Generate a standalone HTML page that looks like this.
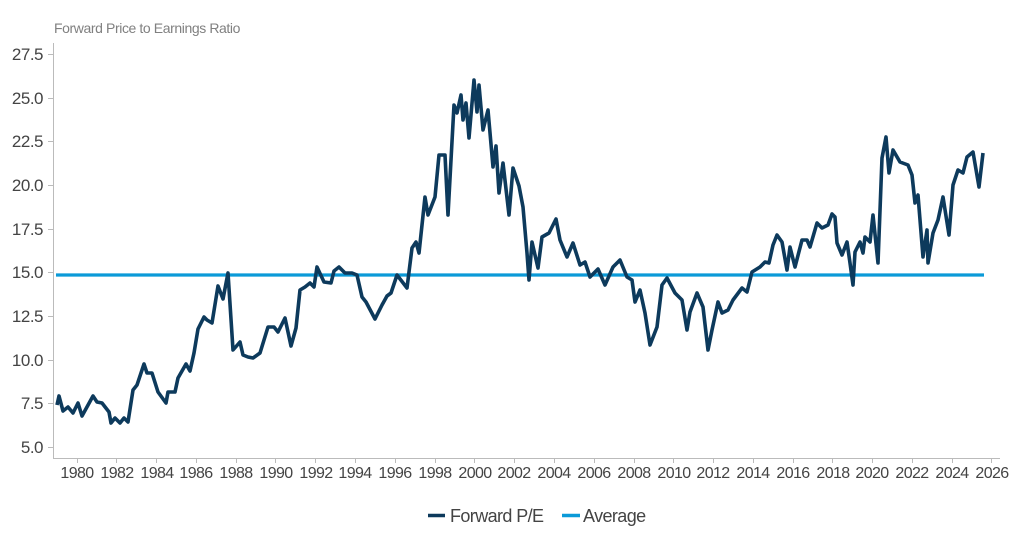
<!DOCTYPE html>
<html><head><meta charset="utf-8"><style>
html,body{margin:0;padding:0;background:#fff;}
svg{display:block;font-family:"Liberation Sans",Arial,sans-serif;}
</style></head><body>
<svg width="1024" height="546" viewBox="0 0 1024 546" xmlns="http://www.w3.org/2000/svg">
<text x="54" y="33" font-size="14" fill="#808080" letter-spacing="-0.4">Forward Price to Earnings Ratio</text>
<g fill="#444" font-size="17" text-anchor="end" letter-spacing="-0.5">
<text x="43" y="60">27.5</text><text x="43" y="104">25.0</text><text x="43" y="147">22.5</text>
<text x="43" y="191">20.0</text><text x="43" y="235">17.5</text><text x="43" y="278">15.0</text>
<text x="43" y="322">12.5</text><text x="43" y="366">10.0</text><text x="43" y="409">7.5</text>
<text x="43" y="453">5.0</text>
</g>
<g stroke="#bbb" stroke-width="1">
<line x1="53.5" y1="43" x2="53.5" y2="458"/>
<line x1="53" y1="458.5" x2="1000" y2="458.5"/>
<path d="M48 54.5h5M48 98.5h5M48 141.5h5M48 185.5h5M48 229.5h5M48 272.5h5M48 316.5h5M48 360.5h5M48 403.5h5M48 447.5h5"/>
<path d="M77.5 458v5M116.5 458v5M156.5 458v5M196.5 458v5M236.5 458v5M275.5 458v5M315.5 458v5M355.5 458v5M395.5 458v5M435.5 458v5M474.5 458v5M514.5 458v5M554.5 458v5M594.5 458v5M634.5 458v5M673.5 458v5M713.5 458v5M753.5 458v5M793.5 458v5M832.5 458v5M872.5 458v5M912.5 458v5M952.5 458v5M991.5 458v5"/>
</g>
<g fill="#444" font-size="16" text-anchor="middle" letter-spacing="-0.6">
<text x="77" y="478">1980</text><text x="117" y="478">1982</text><text x="157" y="478">1984</text><text x="196" y="478">1986</text>
<text x="236" y="478">1988</text><text x="276" y="478">1990</text><text x="316" y="478">1992</text><text x="355" y="478">1994</text>
<text x="395" y="478">1996</text><text x="435" y="478">1998</text><text x="475" y="478">2000</text><text x="514" y="478">2002</text>
<text x="554" y="478">2004</text><text x="594" y="478">2006</text><text x="634" y="478">2008</text><text x="674" y="478">2010</text>
<text x="713" y="478">2012</text><text x="753" y="478">2014</text><text x="793" y="478">2016</text><text x="833" y="478">2018</text>
<text x="872" y="478">2020</text><text x="912" y="478">2022</text><text x="952" y="478">2024</text><text x="992" y="478">2026</text>
</g>
<line x1="56" y1="275" x2="984" y2="275" stroke="#0b9ad8" stroke-width="3.2"/>
<polyline fill="none" stroke="#0d3a5c" stroke-width="3.6" stroke-linejoin="round" points="57,405 59,396 63,411 68,407 73,413 78,403 82,416 93,396 97,402 102,403 109,412 111,423 115,418 120,423 124,418 128,422 133,390 137,385 144,364 147,373 152,373 158,392 166,403 168,392 175,392 178,378 186,364 190,371 194,353 198,329 204,317 207,320 212,323 218,286 223,299 228,273 233,350 240,342 243,355 248,357 253,358 260,353 268,327 274,327 278,332 285,318 291,346 296,328 300,290 305,287 310,283 314,287 317,267 324,282 331,283 334,271 339,267 345,273 352,273 357,275 362,297 366,302 375,319 382,305 387,296 391,293 397,275 407,288 412,248 416,242 419,253 425,197 428,215 435,197 439,155 445,155 448,215 454,105 457,113 461,95 463,120 466,103 469,138 474,80 477,112 479,85 483,130 488,110 493,167 496,146 499,193 503,163 509,215 513,168 519,186 523,207 527,253 529,280 532,242 538,268 542,237 549,233 556,219 560,240 567,257 573,243 580,265 585,262 590,277 598,269 605,285 613,267 620,260 627,277 632,280 635,302 640,290 645,313 650,345 657,327 662,285 667,278 675,293 682,300 687,330 690,312 697,293 703,307 708,350 712,330 718,302 722,313 728,310 733,300 742,288 747,292 752,272 760,267 765,262 769,263 773,245 777,235 782,242 787,270 790,247 795,267 802,240 807,240 810,247 817,223 822,228 828,225 832,214 835,217 837,243 842,255 847,242 850,263 853,285 855,252 860,242 863,253 865,237 870,242 873,215 878,263 882,158 886,137 889,173 893,150 900,162 908,165 912,175 915,203 918,195 923,257 927,230 928,263 933,233 938,220 943,197 949,235 953,185 958,170 963,173 967,157 973,152 979,187 983,153"/>
<line x1="428" y1="515.5" x2="445" y2="515.5" stroke="#0d3a5c" stroke-width="3.5"/>
<text x="450" y="522" font-size="18" fill="#444" letter-spacing="-0.6">Forward P/E</text>
<line x1="562" y1="515.5" x2="580" y2="515.5" stroke="#0b9ad8" stroke-width="3.5"/>
<text x="583" y="522" font-size="18" fill="#444" letter-spacing="-0.6">Average</text>
</svg>
</body></html>
